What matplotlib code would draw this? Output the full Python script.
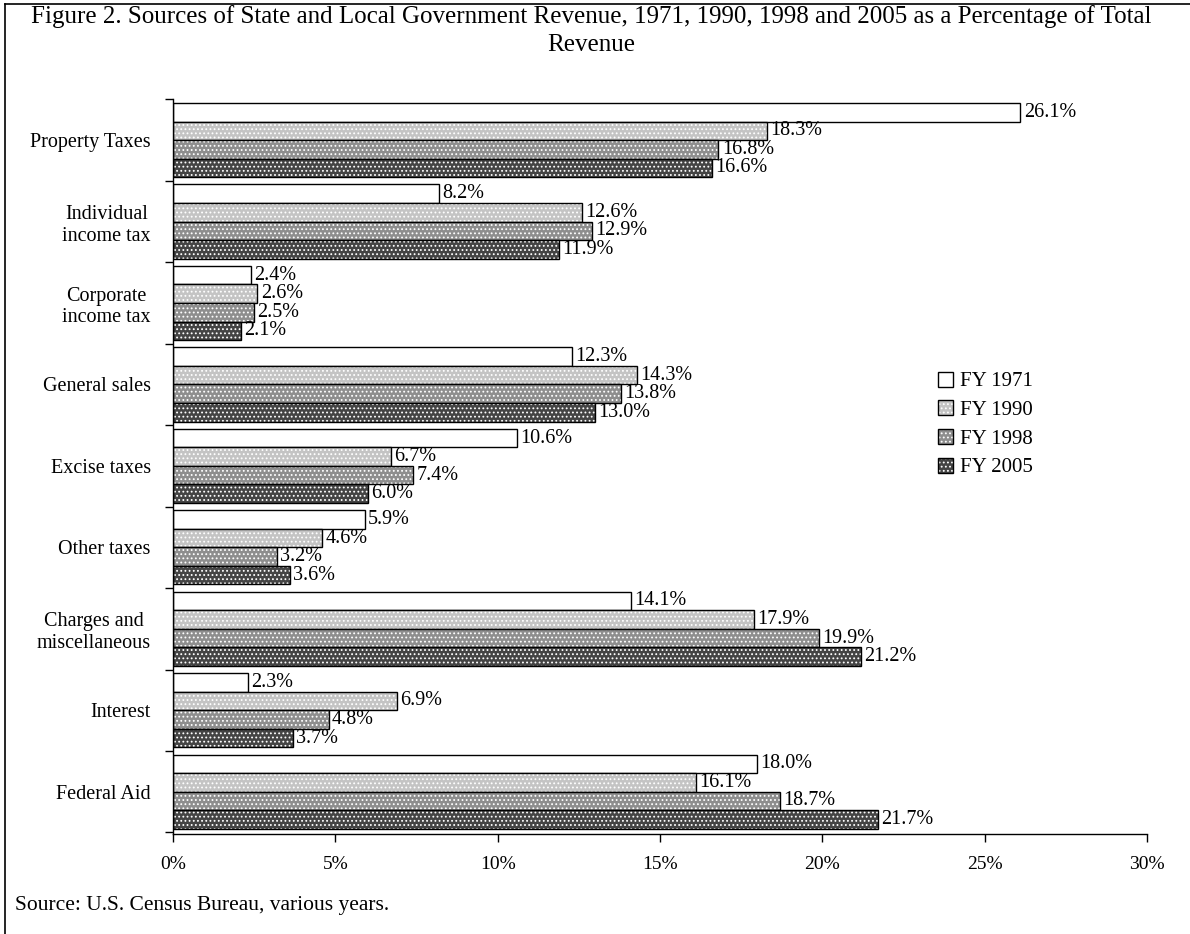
import matplotlib
matplotlib.use("Agg")
import matplotlib.pyplot as plt
import numpy as np
from matplotlib.lines import Line2D
from matplotlib.patches import Patch

plt.rcParams['font.family'] = ['Liberation Serif', 'DejaVu Serif']
plt.rcParams['hatch.linewidth'] = 0.8

categories = ["Property Taxes", "Individual\nincome tax", "Corporate\nincome tax",
              "General sales", "Excise taxes", "Other taxes",
              "Charges and\nmiscellaneous", "Interest", "Federal Aid"]
fy1971 = [26.1, 8.2, 2.4, 12.3, 10.6, 5.9, 14.1, 2.3, 18.0]
fy1990 = [18.3, 12.6, 2.6, 14.3, 6.7, 4.6, 17.9, 6.9, 16.1]
fy1998 = [16.8, 12.9, 2.5, 13.8, 7.4, 3.2, 19.9, 4.8, 18.7]
fy2005 = [16.6, 11.9, 2.1, 13.0, 6.0, 3.6, 21.2, 3.7, 21.7]
series_names = ["FY 1971", "FY 1990", "FY 1998", "FY 2005"]
xticks = [0, 5, 10, 15, 20, 25, 30]

series = [fy1971, fy1990, fy1998, fy2005]
fills = ["#ffffff", "#c4c4c4", "#8e8e8e", "#444444"]
hatches = [None, "....", "....", "...."]

fig = plt.figure(figsize=(11.9, 9.34), dpi=100)
ax = fig.add_axes([0.1454, 0.107, 0.8185, 0.7866])

y = np.arange(len(categories))
bh = 0.228
handles = []
for i, (vals, col, h) in enumerate(zip(series, fills, hatches)):
    pos = y - 1.5 * bh + i * bh
    # speckled fill (white hatch dots), then a black outline on top
    ax.barh(pos, vals, height=bh, color=col, edgecolor="white",
            linewidth=0, hatch=h)
    bars = ax.barh(pos, vals, height=bh, fill=False, edgecolor="black",
                   linewidth=1.0)
    for b, v in zip(bars, vals):
        ax.text(v + 0.1, b.get_y() + b.get_height() / 2, f"{v:.1f}%",
                va="center", ha="left", fontsize=14.5)
    speck = Patch(facecolor=col, edgecolor="white", linewidth=0, hatch=h)
    frame = Patch(facecolor="none", edgecolor="black", linewidth=1.0)
    handles.append((speck, frame))

ax.set_xlim(0, 30)
ax.set_ylim(8.52, -0.49)
ax.set_xticks(xticks)
ax.set_xticklabels([f"{t}%" for t in xticks], fontsize=14)
ax.tick_params(axis="x", direction="out", length=6, width=1, pad=10)

ax.set_yticks(y)
ax.set_yticklabels(categories, fontsize=14.5, multialignment="center")
ax.tick_params(axis="y", length=0, pad=16)
ax.set_yticks(np.arange(-0.5, len(categories)), minor=True)
ax.tick_params(axis="y", which="minor", direction="out", length=6, width=1)

for s in ["top", "right"]:
    ax.spines[s].set_visible(False)
ax.spines["left"].set_linewidth(1.0)
ax.spines["bottom"].set_linewidth(1.0)

leg = ax.legend(handles=handles, labels=series_names, loc="upper left",
                bbox_to_anchor=(0.766, 0.655), frameon=False, fontsize=15,
                handlelength=0.75, handleheight=0.75, handletextpad=0.3,
                labelspacing=0.42)

fig.text(0.497, 0.982, "Figure 2. Sources of State and Local Government Revenue, 1971, 1990, 1998 and 2005 as a Percentage of Total",
         ha="center", va="center", fontsize=18)
fig.text(0.497, 0.952, "Revenue", ha="center", va="center", fontsize=18)
fig.text(0.013, 0.031, "Source: U.S. Census Bureau, various years.",
         ha="left", va="center", fontsize=15.5)

fig.add_artist(Line2D([0.004, 1.0], [0.996, 0.996], color="black", lw=1.2,
                      transform=fig.transFigure))
fig.add_artist(Line2D([0.004, 0.004], [0.0, 0.996], color="black", lw=1.2,
                      transform=fig.transFigure))

fig.savefig("out.png", dpi=100, facecolor="white")
